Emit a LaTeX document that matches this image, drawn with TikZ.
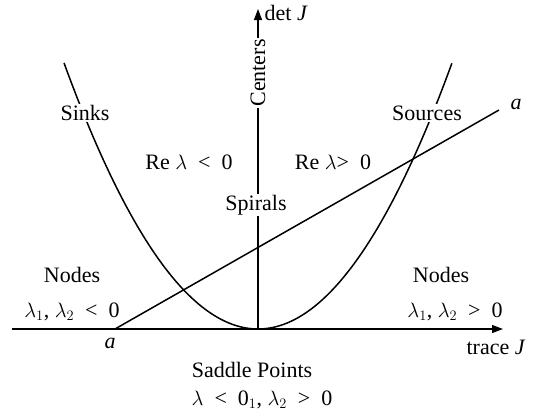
\documentclass[tikz,border=0pt]{standalone}
\usepackage{fontspec}
\setmainfont{Liberation Serif}
\usetikzlibrary{arrows.meta}
\newcommand{\lam}{$\lambda$}
\newcommand{\lsub}[1]{$\lambda_{#1}$}
\begin{document}
\begin{tikzpicture}[x=1pt,y=-1pt,
  lbl/.style={inner sep=1.5pt,font=\fontsize{22}{26}\selectfont},
  wlbl/.style={lbl,fill=white},
  axisline/.style={line width=1.2pt,-{Triangle[length=11pt,width=8pt]}},
  curveline/.style={line width=1.5pt}]
\useasboundingbox (0,0) rectangle (534,415);
\coordinate (xs) at (12,329);
\coordinate (xe) at (503,329);
\coordinate (o) at (258,329);
\coordinate (ye) at (258,9);
\coordinate (a1) at (115,329);
\coordinate (a2) at (499,110);
\draw[axisline] (xs) -- (xe);
\draw[axisline] (o) -- (ye);
\draw[curveline] plot[domain=-1.94:1.94,samples=120] ({258+100*\x},{329-70.7*\x*\x});
\draw[curveline] (a1) -- (a2);
\node[lbl,anchor=west] (det) at (263,13) {det \textit{J}};
\node[lbl] (tr) at (496,347) {trace \textit{J}};
\node[lbl] (la1) at (110,343) {\textit{a}};
\node[lbl] (la2) at (516,104) {\textit{a}};
\node[wlbl] (sinks) at (85,113) {Sinks};
\node[wlbl] (sources) at (427,113) {Sources};
\node[wlbl,rotate=90] (centers) at (258,73) {Centers};
\node[lbl] (rel) at (189,162) {Re \lam\ \ < \ 0};
\node[lbl] (reg) at (333,162) {Re \lam> \ 0};
\node[wlbl] (spirals) at (256,205) {Spirals};
\node[lbl] (nl) at (72,275) {Nodes};
\node[lbl] (nll) at (72,312) {\lsub{1}, \lsub{2} \ < \ 0};
\node[lbl] (nr) at (441,275) {Nodes};
\node[lbl] (nrl) at (455,312) {\lsub{1}, \lsub{2} \ > \ 0};
\node[lbl] (sp) at (252,370) {Saddle Points};
\node[lbl] (spl) at (262,400) {\lam\ \ < \ 0$_1$, \lsub{2} \ > \ 0};
\end{tikzpicture}
\end{document}
